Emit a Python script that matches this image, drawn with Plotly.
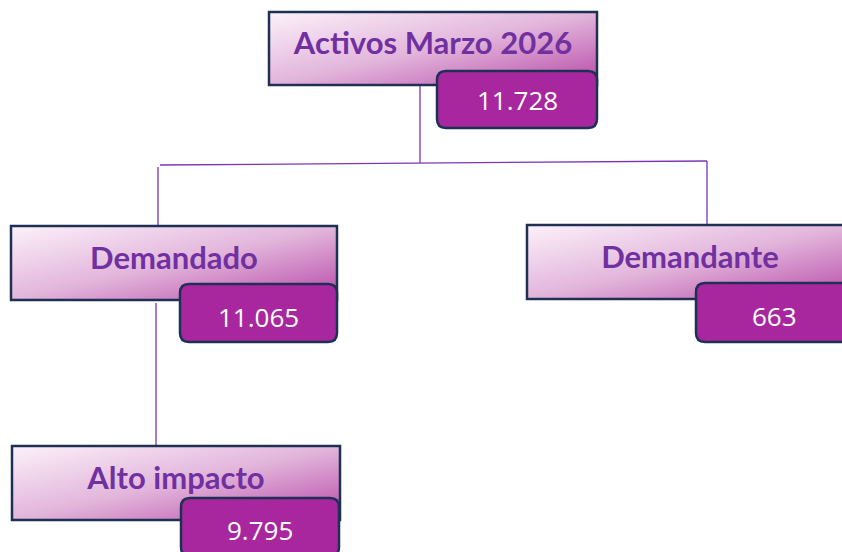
import base64
import plotly.graph_objects as go

# ---------------- data ----------------
labels = ["Activos Marzo 2026", "Demandado", "Demandante", "Alto impacto"]
values = [11728, 11065, 663, 9795]
parents = [None, 0, 0, 1]

# ---------------- layout (pixel geometry of the diagram) ----------------
W, H = 842, 552
label_boxes = [(269, 12, 597, 85), (11, 226, 337, 300), (527, 225, 853, 299), (12, 446, 340, 520)]
value_boxes = [(437, 71, 597, 128), (180, 284, 337, 342), (696, 283, 853, 342), (181, 498, 339, 556)]
value_text_y = [100, 317, 316, 530]
label_dy = -2          # label text sits a little above the box centre
connectors = [
    [(420, 85), (420, 163)],
    [(160, 165), (707, 161)],
    [(158, 167), (158, 227)],
    [(707, 161), (707, 226)],
    [(156, 303), (156, 446)],
]

NAVY = "#1f3055"
PURPLE_TXT = "#7030a0"
LINE = "#7b35b5"
VALUE_FILL = "#a8279f"

grad_svg = (
    '<svg xmlns="http://www.w3.org/2000/svg" width="100" height="100" preserveAspectRatio="none" viewBox="0 0 100 100">'
    '<defs><linearGradient id="g" x1="0" y1="0" x2="1" y2="1">'
    '<stop offset="0" stop-color="#fcf1fa"/>'
    '<stop offset="0.5" stop-color="#e2b5db"/>'
    '<stop offset="1" stop-color="#b84aa8"/>'
    '</linearGradient></defs>'
    '<rect x="0" y="0" width="100" height="100" fill="url(#g)"/></svg>'
)
grad_src = "data:image/svg+xml;base64," + base64.b64encode(grad_svg.encode()).decode()


def rounded(x0, y0, x1, y1, r):
    return (f"M{x0+r},{y0} L{x1-r},{y0} Q{x1},{y0} {x1},{y0+r} L{x1},{y1-r} Q{x1},{y1} {x1-r},{y1} "
            f"L{x0+r},{y1} Q{x0},{y1} {x0},{y1-r} L{x0},{y0+r} Q{x0},{y0} {x0+r},{y0} Z")


fig = go.Figure()

images = []
shapes = []
for (x0, y0, x1, y1) in label_boxes:
    images.append(dict(source=grad_src, xref="x", yref="y", x=x0, y=y0, sizex=x1 - x0, sizey=y1 - y0,
                       xanchor="left", yanchor="top", sizing="stretch", layer="below"))
    shapes.append(dict(type="rect", xref="x", yref="y", x0=x0, y0=y0, x1=x1, y1=y1,
                       line=dict(color=NAVY, width=2.5), fillcolor="rgba(0,0,0,0)", layer="above"))
for (x0, y0, x1, y1) in value_boxes:
    shapes.append(dict(type="path", xref="x", yref="y", path=rounded(x0, y0, x1, y1, 9),
                       line=dict(color=NAVY, width=2.5), fillcolor=VALUE_FILL, layer="above"))

# connectors
for seg in connectors:
    fig.add_trace(go.Scatter(x=[p[0] for p in seg], y=[p[1] for p in seg], mode="lines",
                             line=dict(color=LINE, width=1.3), hoverinfo="skip", showlegend=False))

# labels
lx = [(b[0] + b[2]) / 2 for b in label_boxes]
ly = [(b[1] + b[3]) / 2 + label_dy for b in label_boxes]
fig.add_trace(go.Scatter(x=lx, y=ly, mode="text", text=labels,
                         textfont=dict(family="Lato", size=31, color=PURPLE_TXT, weight="bold"),
                         hoverinfo="skip", showlegend=False))

# values (annotations so they sit above the value boxes)
vx = [(b[0] + b[2]) / 2 for b in value_boxes]
annotations = []
for x, y, v in zip(vx, value_text_y, values):
    annotations.append(dict(xref="x", yref="y", x=x, y=y, showarrow=False,
                            text=f"{v:,}".replace(",", "."),
                            font=dict(family="Open Sans", size=26, color="white")))

fig.update_layout(
    width=W, height=H, margin=dict(l=0, r=0, t=0, b=0),
    paper_bgcolor="white", plot_bgcolor="white",
    xaxis=dict(range=[0, W], visible=False, fixedrange=True),
    yaxis=dict(range=[H, 0], visible=False, fixedrange=True),
    images=images, shapes=shapes, annotations=annotations,
)

fig.write_html("out.html", config={"displayModeBar": False},
               post_script="document.body.style.margin='0';document.body.style.overflow='hidden';")
